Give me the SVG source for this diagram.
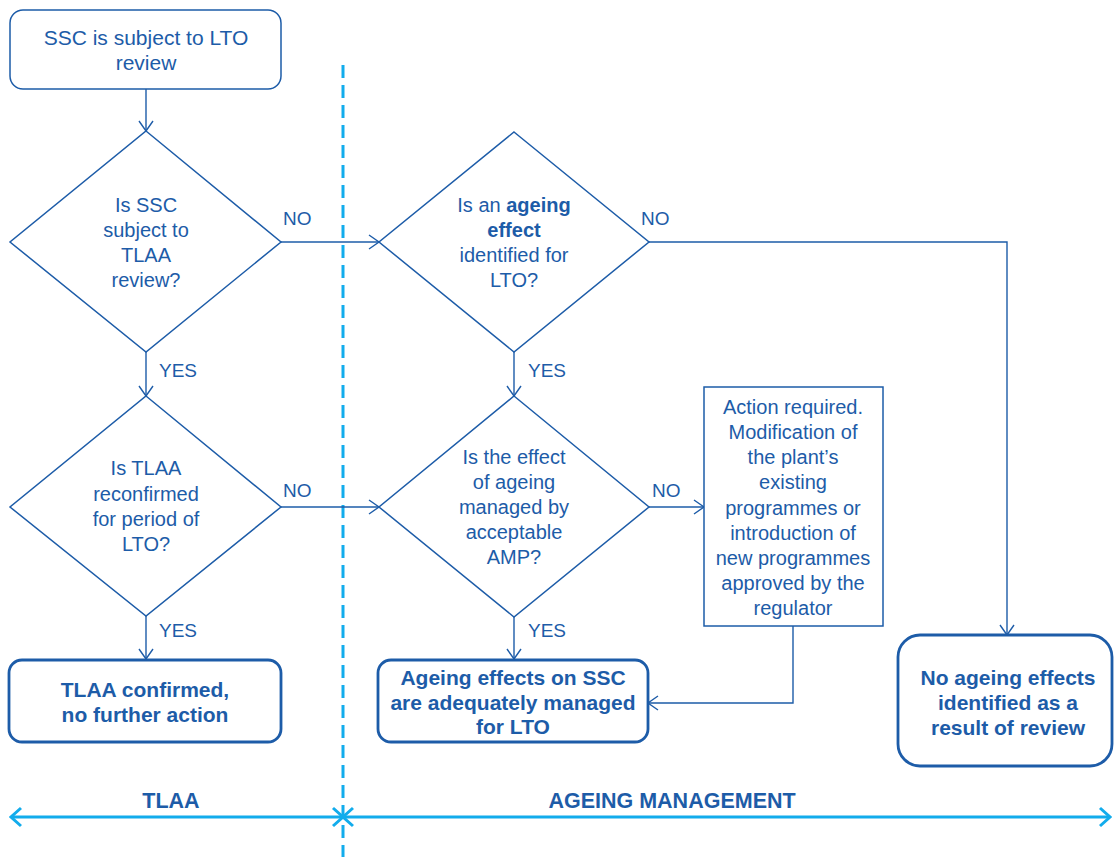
<svg xmlns="http://www.w3.org/2000/svg" width="1114" height="857" viewBox="0 0 1114 857">
<defs>
<style>
.t{font-family:"Liberation Sans",Arial,sans-serif;font-size:20px;fill:#1D5CA8;text-anchor:middle}
.b{font-weight:bold}
.rb{font-size:21px;font-weight:bold}
.lbl{font-family:"Liberation Sans",Arial,sans-serif;font-size:19px;fill:#1D5CA8}
.ax{font-family:"Liberation Sans",Arial,sans-serif;font-size:21.5px;font-weight:bold;fill:#1D5CA8;text-anchor:middle}
.shape{fill:#fff;stroke:#1D5CA8;stroke-width:1.5}
.res{fill:#fff;stroke:#1D5CA8;stroke-width:2.8}
.con{fill:none;stroke:#1D5CA8;stroke-width:1.4;marker-end:url(#arr)}
.axis{fill:none;stroke:#12ACEC;stroke-width:3;marker-start:url(#axarr);marker-end:url(#axarr)}
</style>
<marker id="arr" markerUnits="userSpaceOnUse" viewBox="-12 -8 14 16" refX="0" refY="0" markerWidth="14" markerHeight="16" orient="auto">
<path d="M-10,-7 L0,0 L-10,7" fill="none" stroke="#1D5CA8" stroke-width="1.4"/>
</marker>
<marker id="axarr" markerUnits="userSpaceOnUse" viewBox="-14 -12 16 24" refX="0" refY="0" markerWidth="16" markerHeight="24" orient="auto-start-reverse">
<path d="M-10,-9 L0,0 L-10,9" fill="none" stroke="#12ACEC" stroke-width="3"/>
</marker>
</defs>
<rect width="1114" height="857" fill="#fff"/>

<line x1="343" y1="65" x2="343" y2="857" stroke="#12ACEC" stroke-width="3" stroke-dasharray="13 7"/>

<g id="connectors">
<path class="con" d="M146,89 V131"/>
<path class="con" d="M146,352 V396"/>
<path class="con" d="M146,616 V659"/>
<path class="con" d="M281,242 H379"/>
<path class="con" d="M281,507 H379"/>
<path class="con" d="M514,352 V396"/>
<path class="con" d="M514,617 V659"/>
<path class="con" d="M649,242 H1007 V635"/>
<path class="con" d="M649,507 H704"/>
<path class="con" d="M793,626 V703 H648"/>
<text class="lbl" x="283" y="225">NO</text>
<text class="lbl" x="641" y="225">NO</text>
<text class="lbl" x="283" y="497">NO</text>
<text class="lbl" x="652" y="497">NO</text>
<text class="lbl" x="159" y="377">YES</text>
<text class="lbl" x="528" y="377">YES</text>
<text class="lbl" x="159" y="637">YES</text>
<text class="lbl" x="528" y="637">YES</text>
</g>

<g id="start">
<rect class="shape" x="10" y="10" width="271" height="79" rx="13"/>
<text class="t" style="font-size:21px" x="146" y="45">SSC is subject to LTO</text>
<text class="t" style="font-size:21px" x="146" y="70">review</text>
</g>

<g id="q-tlaa">
<polygon class="shape" points="146,131 281,242 146,352 10,242"/>
<text class="t" x="146" y="212">Is SSC</text>
<text class="t" x="146" y="237">subject to</text>
<text class="t" x="146" y="262">TLAA</text>
<text class="t" x="146" y="287">review?</text>
</g>

<g id="q-ageing">
<polygon class="shape" points="514,132 649,242 514,352 379,242"/>
<text class="t" x="514" y="212">Is an <tspan class="b">ageing</tspan></text>
<text class="t b" x="514" y="237">effect</text>
<text class="t" x="514" y="262">identified for</text>
<text class="t" x="514" y="287">LTO?</text>
</g>

<g id="q-reconfirm">
<polygon class="shape" points="146,396 281,507 146,616 10,507"/>
<text class="t" x="146" y="475">Is TLAA</text>
<text class="t" x="146" y="501">reconfirmed</text>
<text class="t" x="146" y="526">for period of</text>
<text class="t" x="146" y="551">LTO?</text>
</g>

<g id="q-amp">
<polygon class="shape" points="514,396 649,507 514,617 379,507"/>
<text class="t" x="514" y="464">Is the effect</text>
<text class="t" x="514" y="489">of ageing</text>
<text class="t" x="514" y="514">managed by</text>
<text class="t" x="514" y="539">acceptable</text>
<text class="t" x="514" y="564">AMP?</text>
</g>

<g id="action">
<rect class="shape" x="704" y="387" width="179" height="239"/>
<text class="t" x="793" y="414">Action required.</text>
<text class="t" x="793" y="439">Modification of</text>
<text class="t" x="793" y="464">the plant’s</text>
<text class="t" x="793" y="489">existing</text>
<text class="t" x="793" y="515">programmes or</text>
<text class="t" x="793" y="540">introduction of</text>
<text class="t" x="793" y="565">new programmes</text>
<text class="t" x="793" y="590">approved by the</text>
<text class="t" x="793" y="615">regulator</text>
</g>

<g id="tlaa-confirmed">
<rect class="res" x="9" y="660" width="272" height="82" rx="13"/>
<text class="t rb" x="145" y="697">TLAA confirmed,</text>
<text class="t rb" x="145" y="722">no further action</text>
</g>

<g id="ageing-managed">
<rect class="res" x="378" y="660" width="270" height="82" rx="13"/>
<text class="t rb" x="513" y="685">Ageing effects on SSC</text>
<text class="t rb" x="513" y="710">are adequately managed</text>
<text class="t rb" x="513" y="734">for LTO</text>
</g>

<g id="no-ageing">
<rect class="res" x="898" y="635" width="214" height="131" rx="22"/>
<text class="t rb" x="1008" y="685">No ageing effects</text>
<text class="t rb" x="1008" y="710">identified as a</text>
<text class="t rb" x="1008" y="735">result of review</text>
</g>

<g id="axis">
<path class="axis" d="M343,817 H11"/>
<path class="axis" d="M343,817 H1110"/>
<text class="ax" x="171" y="808">TLAA</text>
<text class="ax" x="672" y="808">AGEING MANAGEMENT</text>
</g>
</svg>
